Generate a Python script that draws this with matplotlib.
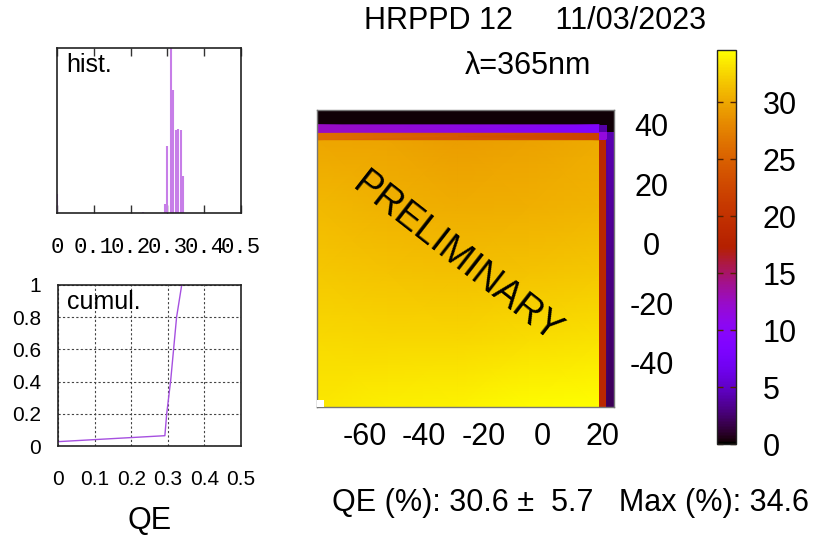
import numpy as np
import matplotlib
matplotlib.use("Agg")
import matplotlib.pyplot as plt
from matplotlib.patches import Rectangle
from matplotlib.colors import Normalize
from matplotlib.cm import ScalarMappable

plt.rcParams['font.family'] = ['Liberation Sans', 'DejaVu Sans']

# ---- pixel QE histogram ----
hist_qe = [0.0, 0.234, 0.294, 0.300, 0.309, 0.314, 0.3226, 0.329, 0.336, 0.343]
hist_counts = [11.5, 0.6, 5.5, 40.6, 130.0, 74.5, 50.3, 51.0, 50.3, 22.4]
hist_ticks = [0, 0.1, 0.2, 0.3, 0.4, 0.5]

# ---- cumulative distribution ----
cum_qe = [0.0, 0.292, 0.297, 0.308, 0.324, 0.338]
cum_frac = [0.027, 0.064, 0.20, 0.41, 0.80, 1.0]
cum_xticks = [0, 0.1, 0.2, 0.3, 0.4, 0.5]
cum_yticks = [0, 0.2, 0.4, 0.6, 0.8, 1]

# ---- QE map (%), 2.5 mm pixels ----
pix = 2.5
map_x0, map_y0 = -76.0, -55.0
ncol, nrow = 40, 40
# bulk of the photocathode: coarse nodes, shaded between them
bulk_x = [-76.0, -52.25, -28.5, -4.75, 19.0]
bulk_y = [-55.0, -32.5, -10.0, 12.5, 35.0]
bulk_qe = [
    [33.5, 33.8, 34.0, 34.4, 34.6],
    [32.8, 32.7, 32.6, 32.9, 33.2],
    [31.8, 31.6, 31.4, 31.6, 31.8],
    [31.0, 30.6, 30.3, 30.5, 30.8],
    [30.0, 29.8, 29.4, 29.7, 30.2],
]
top_rows_qe = 0.2              # two outermost rows
row_purple_qe = [12.5, 8.7]    # third row, left -> right
row_orange_qe = [26.1, 21.9]   # fourth row, left -> right
col_red_qe = 18.5              # second-to-last column
col_dark_qe = [2.0, 4.3]       # last column, bottom -> top
corner_qe = [[11.5, 4.3],      # fourth row, last two columns
             [4.0, 0.2]]       # third row, last two columns
missing_cells = [(0, 0)]       # (column, row) from lower-left

qe_mean, qe_rms, qe_max = 30.6, 5.7, 34.6
cbar_ticks = [0, 5, 10, 15, 20, 25, 30]
map_xticks = [-60, -40, -20, 0, 20]
map_yticks = [-40, -20, 0, 20, 40]

W, H = 813, 537
fig = plt.figure(figsize=(W / 100, H / 100), dpi=100)
BIG = 22


def box(l, t, r, b):
    return [l / W, 1 - b / H, (r - l) / W, (b - t) / H]


# ---------------- histogram ----------------
ax_h = fig.add_axes(box(57, 48, 241, 213))
ax_h.vlines(hist_qe, 0, hist_counts, color='#c77ee8', lw=1.5)
ax_h.set_xlim(0, 0.5)
ax_h.set_ylim(0, 100)
ax_h.set_xticks(hist_ticks)
ax_h.set_xticklabels(['0', '0.1', '0.2', '0.3', '0.4', '0.5'],
                     family='Liberation Mono', fontsize=16)
ax_h.tick_params(axis='x', direction='in', top=True, length=6, width=1,
                 color='#333333', pad=17)
ax_h.set_yticks([])
for s in ax_h.spines.values():
    s.set_color('#222222')
    s.set_linewidth(1.2)
ax_h.text(0.05, 0.97, 'hist.', transform=ax_h.transAxes, fontsize=18,
          va='top', ha='left')

# ---------------- cumulative ----------------
ax_c = fig.add_axes(box(58, 285, 241, 446))
ax_c.plot(cum_qe, cum_frac, color='#a650e0', lw=1.0)
ax_c.set_xlim(0, 0.5)
ax_c.set_ylim(0, 1)
ax_c.set_xticks(cum_xticks)
ax_c.set_xticklabels(['0', '0.1', '0.2', '0.3', '0.4', '0.5'], fontsize=15)
ax_c.set_yticks(cum_yticks)
ax_c.set_yticklabels(['0', '0.2', '0.4', '0.6', '0.8', '1'], fontsize=15)
ax_c.tick_params(axis='x', length=0, pad=17)
ax_c.tick_params(axis='y', length=0, pad=12)
ax_c.grid(True, color='#444444', ls=(0, (2, 2)), lw=0.8)
for s in ax_c.spines.values():
    s.set_color('#222222')
    s.set_linewidth(1.2)
ax_c.text(0.05, 0.97, 'cumul.', transform=ax_c.transAxes, fontsize=18,
          va='top', ha='left')
fig.text(150 / W, 1 - 521 / H, 'QE', fontsize=BIG, ha='center', va='center')

# ---------------- QE map ----------------
norm = Normalize(vmin=0, vmax=qe_max)
cmap = plt.get_cmap('gnuplot')
ax_m = fig.add_axes(box(317, 110, 614, 407))
x_end = map_x0 + ncol * pix
y_end = map_y0 + nrow * pix
x_in = x_end - 2 * pix     # right edge of the bulk
y_in = y_end - 4 * pix     # top edge of the bulk

BX, BY = np.meshgrid(bulk_x, bulk_y)
ax_m.pcolormesh(BX, BY, np.array(bulk_qe), shading='gouraud', cmap=cmap,
                norm=norm)
# two outermost rows
ax_m.pcolormesh([map_x0, x_end], [y_end - 2 * pix, y_end],
                [[top_rows_qe]], cmap=cmap, norm=norm)
# third and fourth rows
for row_vals, yb in ((row_orange_qe, y_in), (row_purple_qe, y_in + pix)):
    RX, RY = np.meshgrid([map_x0, x_in], [yb, yb + pix])
    ax_m.pcolormesh(RX, RY, np.array([row_vals, row_vals]),
                    shading='gouraud', cmap=cmap, norm=norm)
# corner cells
ax_m.pcolormesh([x_in, x_in + pix, x_end], [y_in, y_in + pix, y_in + 2 * pix],
                np.array(corner_qe), cmap=cmap, norm=norm)
# last two columns
ax_m.pcolormesh([x_in, x_in + pix], [map_y0, y_in], [[col_red_qe]],
                cmap=cmap, norm=norm)
CX, CY = np.meshgrid([x_in + pix, x_end], [map_y0, y_in])
ax_m.pcolormesh(CX, CY, np.array([[col_dark_qe[0]] * 2, [col_dark_qe[1]] * 2]),
                shading='gouraud', cmap=cmap, norm=norm)
for ci, ri in missing_cells:
    ax_m.add_patch(Rectangle((map_x0 + ci * pix, map_y0 + ri * pix), pix, pix,
                             facecolor='white', edgecolor='none', zorder=3))

ax_m.set_xlim(map_x0, x_end)
ax_m.set_ylim(map_y0, y_end)
ax_m.set_xticks(map_xticks)
ax_m.set_xticklabels([str(v) for v in map_xticks], fontsize=BIG)
ax_m.set_yticks(map_yticks)
ax_m.set_yticklabels([str(v) for v in map_yticks], fontsize=BIG)
ax_m.yaxis.tick_right()
ax_m.tick_params(axis='x', length=0, pad=11)
ax_m.tick_params(axis='y', length=0, pad=27)
for lab in ax_m.get_yticklabels():
    lab.set_horizontalalignment('center')
for s in ax_m.spines.values():
    s.set_color('#777777')
    s.set_linewidth(1.0)
ax_m.text(0.47, 0.50, 'PRELIMINARY', transform=ax_m.transAxes, fontsize=27,
          rotation=-38, rotation_mode='anchor', ha='center', va='center',
          zorder=4)

# ---------------- colour bar ----------------
ax_cb = fig.add_axes(box(717, 50, 736, 444))
cb = fig.colorbar(ScalarMappable(norm=norm, cmap=cmap), cax=ax_cb)
cb.set_ticks(cbar_ticks)
cb.set_ticklabels([str(v) for v in cbar_ticks])
ax_cb.tick_params(direction='in', left=True, right=True, length=4, width=1,
                  color='#552200', labelsize=BIG, pad=19)
cb.outline.set_edgecolor('#222222')
cb.outline.set_linewidth(1.0)

# ---------------- titles ----------------
fig.text(535 / W, 1 - 21 / H, 'HRPPD 12     11/03/2023', fontsize=BIG,
         ha='center', va='center')
fig.text(528 / W, 1 - 66 / H, 'λ=365nm', fontsize=BIG, ha='center',
         va='center')
fig.text(570 / W, 1 - 503 / H,
         f'QE (%): {qe_mean:.1f} \u00b1  {qe_rms:.1f}   Max (%): {qe_max:.1f}',
         fontsize=BIG, ha='center', va='center')

fig.savefig('out.png', dpi=100)
